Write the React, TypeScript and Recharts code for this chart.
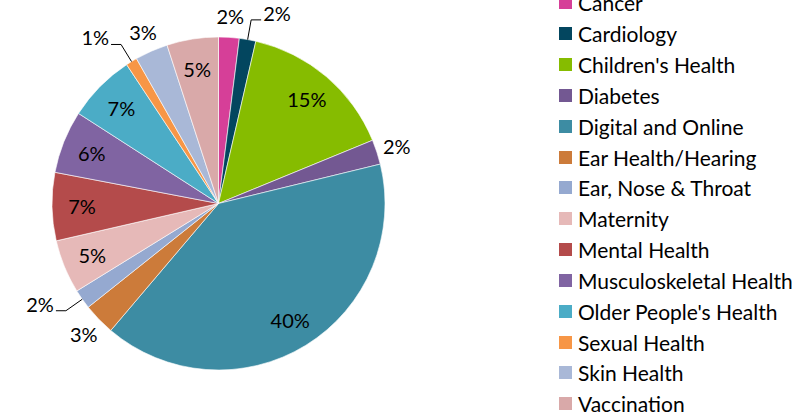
import React from "react";
import { PieChart, Pie, Cell, Legend } from "recharts";

const categories = [
  "Cancer",
  "Cardiology",
  "Children's Health",
  "Diabetes",
  "Digital and Online",
  "Ear Health/Hearing",
  "Ear, Nose & Throat",
  "Maternity",
  "Mental Health",
  "Musculoskeletal Health",
  "Older People's Health",
  "Sexual Health",
  "Skin Health",
  "Vaccination",
];

const shares = [2.0, 1.6, 15.2, 2.4, 40.0, 3.1, 1.9, 5.2, 6.6, 6.1, 6.6, 1.1, 3.2, 5.0];

const colors = [
  "#D63F98",
  "#03465F",
  "#86BC00",
  "#735892",
  "#3D8CA3",
  "#CC7B3A",
  "#95A9D0",
  "#E6B9B8",
  "#B44B4B",
  "#8064A2",
  "#4BACC6",
  "#F79646",
  "#A9B8D7",
  "#D9A9A9",
];

// labels pulled out with a leader line (they would clash with a neighbour)
const leaderLabels = ["Cardiology", "Ear, Nose & Throat", "Sexual Health"];

const rows = categories.map((name, i) => ({ name, value: shares[i] }));

const FONT = "Lato, 'Open Sans', sans-serif";
const RAD = Math.PI / 180;

function renderLabel(props: any) {
  const { cx, cy, midAngle, outerRadius, percent, name } = props;
  const text = `${Math.round(percent * 100)}%`;
  const cos = Math.cos(-midAngle * RAD);
  const sin = Math.sin(-midAngle * RAD);

  if (percent >= 0.045) {
    const r = outerRadius * 0.82;
    return (
      <text x={cx + r * cos} y={cy + r * sin} textAnchor="middle" dominantBaseline="central"
        fontSize={20} fontFamily={FONT} fill="#000">
        {text}
      </text>
    );
  }

  if (leaderLabels.includes(name)) {
    const sx = cx + outerRadius * cos;
    const sy = cy + outerRadius * sin;
    const ex = cx + (outerRadius + 20) * cos;
    const ey = cy + (outerRadius + 20) * sin;
    const dir = cos >= 0 ? 1 : -1;
    const hx = ex + dir * 10;
    return (
      <g>
        <polyline points={`${sx},${sy} ${ex},${ey} ${hx},${ey}`} fill="none" stroke="#000" strokeWidth={1} />
        <text x={hx + dir * 2} y={ey - 7} textAnchor={dir > 0 ? "start" : "end"} dominantBaseline="central"
          fontSize={20} fontFamily={FONT} fill="#000">
          {text}
        </text>
      </g>
    );
  }

  const r = outerRadius + 21;
  return (
    <text x={cx + r * cos} y={cy + r * sin} textAnchor="middle" dominantBaseline="central"
      fontSize={20} fontFamily={FONT} fill="#000">
      {text}
    </text>
  );
}

function LegendList({ payload }: any) {
  return (
    <div style={{ fontFamily: FONT, fontSize: 21, color: "#000" }}>
      {(payload || []).map((p: any) => (
        <div key={p.value} style={{ display: "flex", alignItems: "center", height: 30.83, whiteSpace: "nowrap" }}>
          <span style={{ width: 13, height: 13, background: p.color, marginRight: 6, flexShrink: 0 }} />
          <span style={{ lineHeight: "21px" }}>{p.value}</span>
        </div>
      ))}
    </div>
  );
}

export default function App() {
  return (
    <div style={{ position: "absolute", left: 0, top: 0, width: 803, height: 416, background: "#fff" }}>
      <PieChart width={803} height={416} margin={{ top: 0, right: 0, bottom: 0, left: 0 }}>
        <Pie
          data={rows}
          dataKey="value"
          nameKey="name"
          cx={218.5}
          cy={203.5}
          outerRadius={166.5}
          startAngle={90}
          endAngle={-270}
          stroke="#fff"
          strokeWidth={0.6}
          label={renderLabel}
          labelLine={false}
          isAnimationActive={false}
        >
          {rows.map((r, i) => (
            <Cell key={r.name} fill={colors[i]} />
          ))}
        </Pie>
        <Legend
          layout="vertical"
          content={<LegendList />}
          wrapperStyle={{ position: "absolute", left: 559, top: -12.5, width: 244 }}
        />
      </PieChart>
    </div>
  );
}
